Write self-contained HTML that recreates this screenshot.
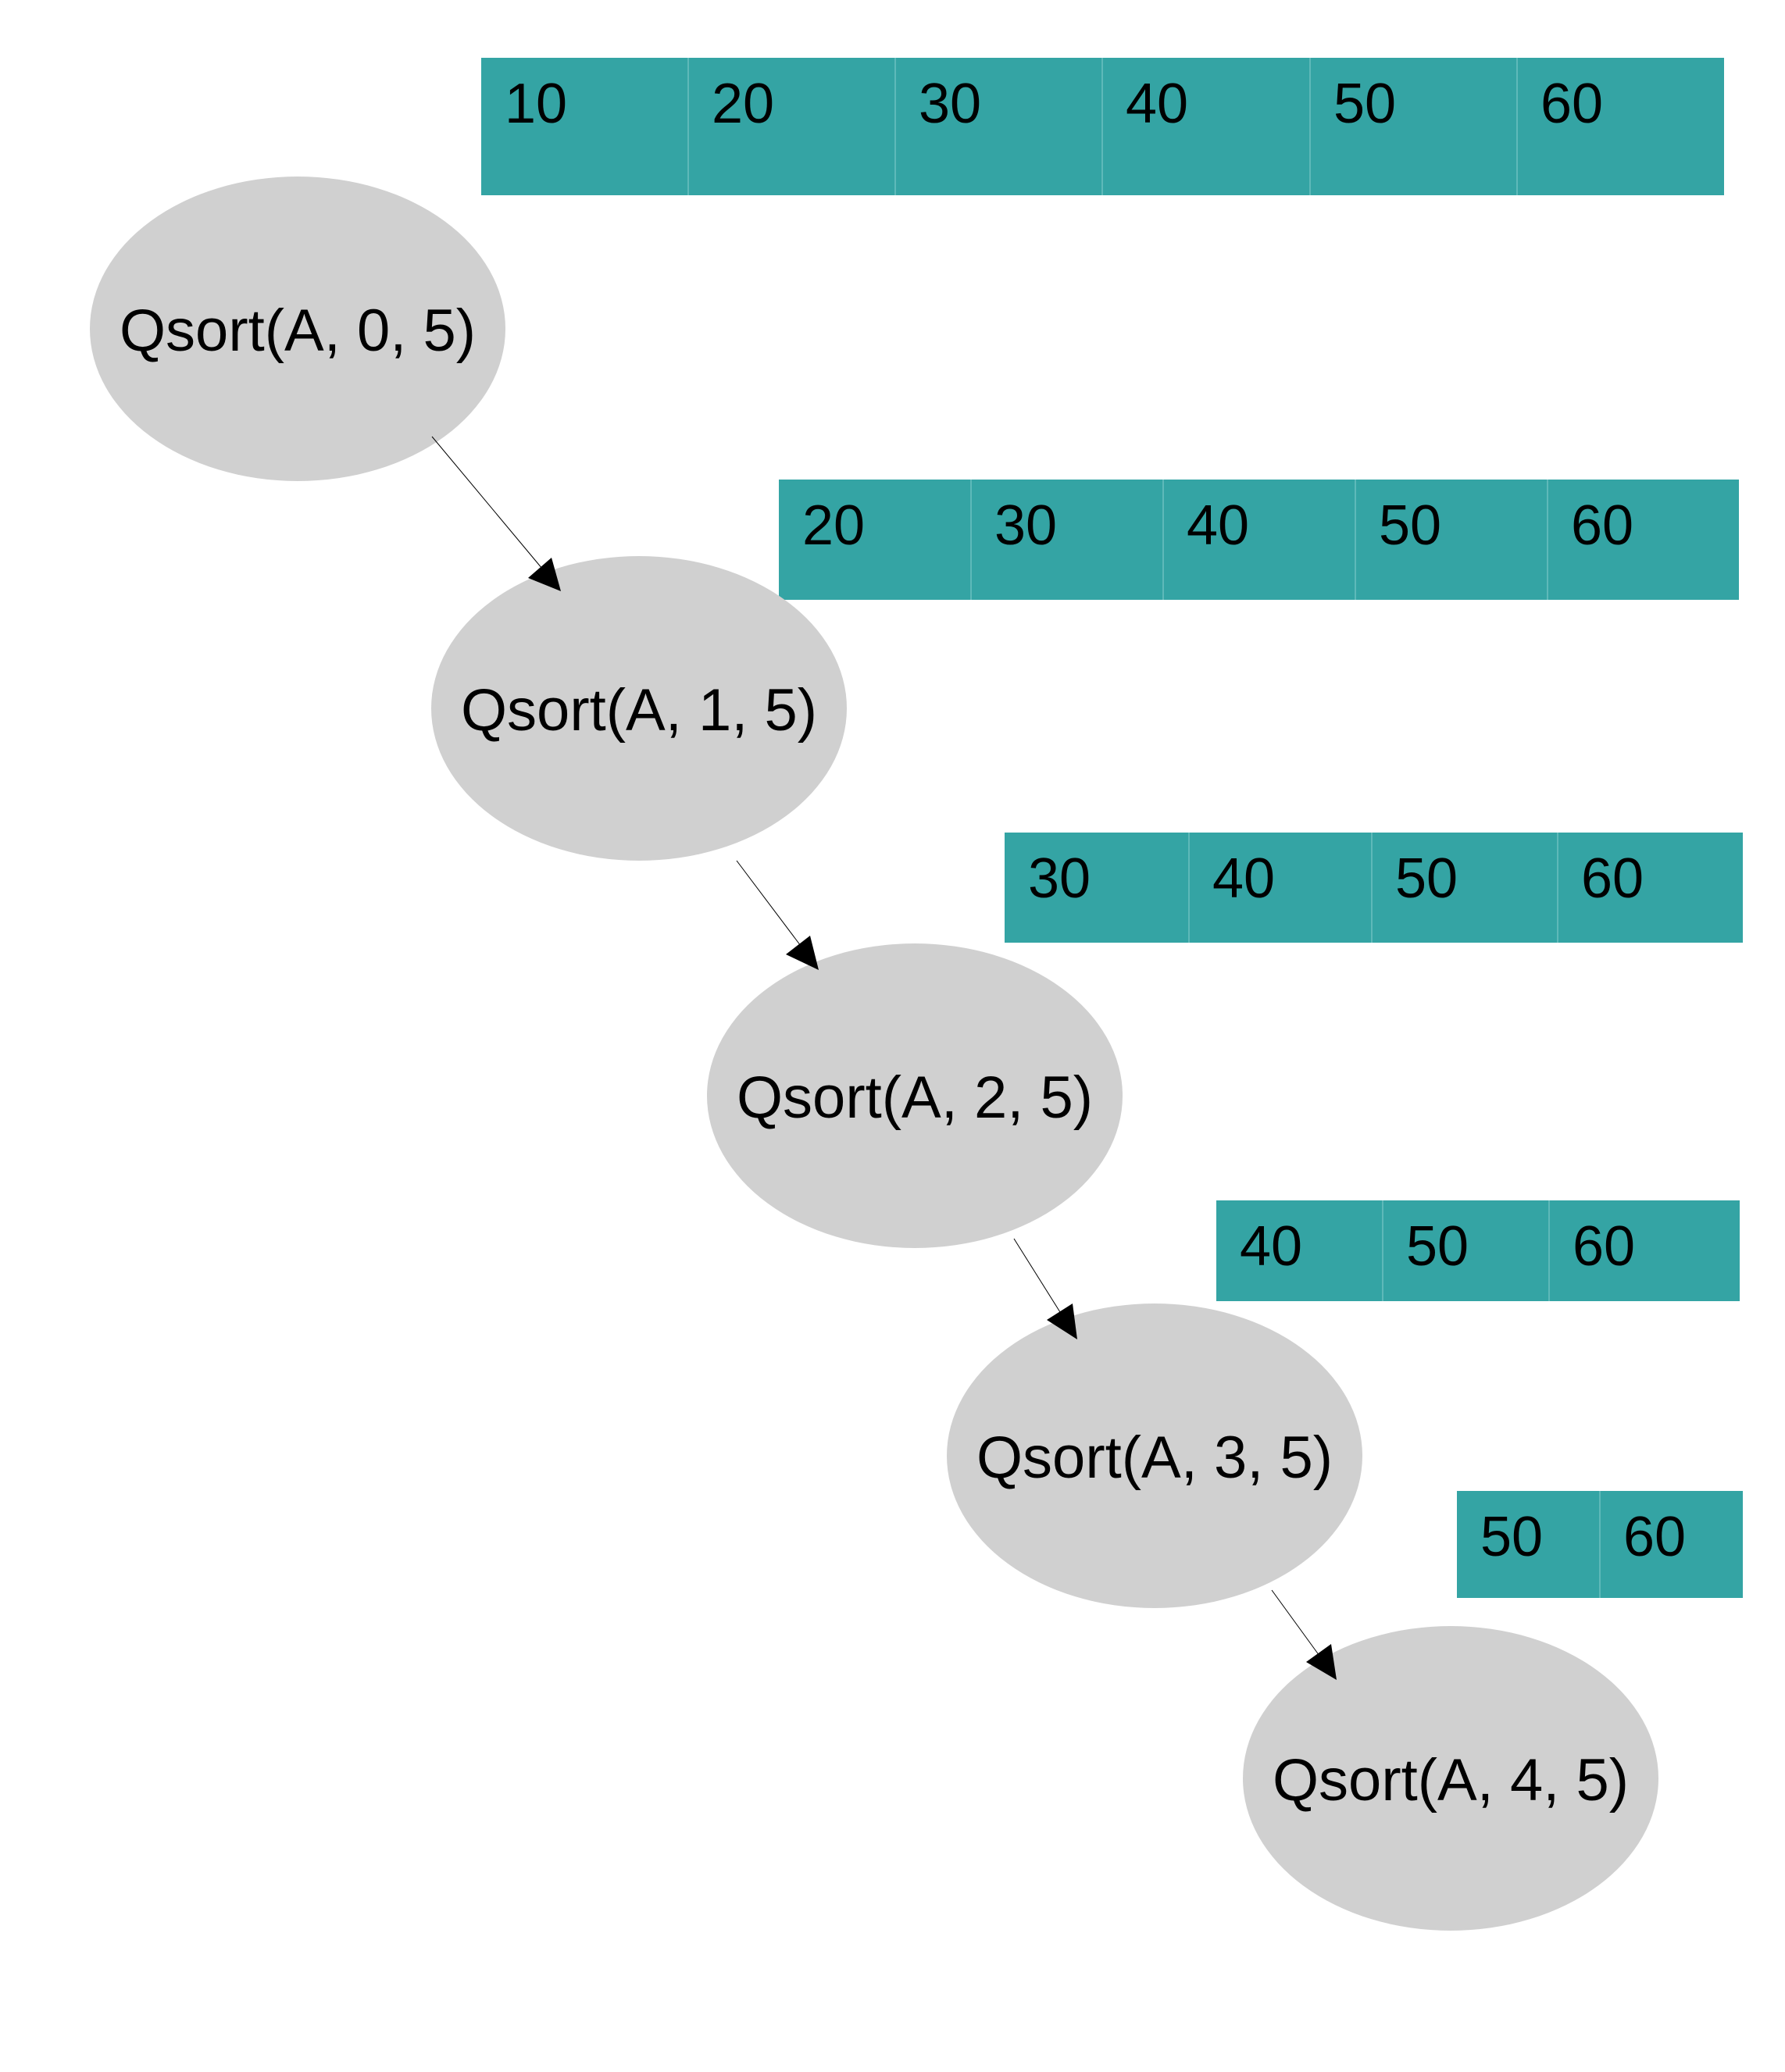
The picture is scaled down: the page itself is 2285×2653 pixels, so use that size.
<!DOCTYPE html>
<html><head><meta charset="utf-8"><style>html,body{margin:0;padding:0;background:#fff}svg{display:block}</style></head>
<body>
<svg width="2285" height="2653" viewBox="0 0 2285 2653" xmlns="http://www.w3.org/2000/svg" font-family="Liberation Sans, Arial, sans-serif" font-size="72">
<g fill="#34a4a4">
<rect x="616" y="74" width="1591" height="176"/>
<rect x="997" y="614" width="1229" height="154"/>
<rect x="1286" y="1066" width="945" height="141"/>
<rect x="1557" y="1537" width="670" height="129"/>
<rect x="1865" y="1909" width="366" height="137"/>
</g>
<g stroke="#6cc0c0" stroke-width="1.5">
<line x1="881" y1="74" x2="881" y2="250"/><line x1="1146" y1="74" x2="1146" y2="250"/><line x1="1411" y1="74" x2="1411" y2="250"/><line x1="1677" y1="74" x2="1677" y2="250"/><line x1="1942" y1="74" x2="1942" y2="250"/>
<line x1="1243" y1="614" x2="1243" y2="768"/><line x1="1489" y1="614" x2="1489" y2="768"/><line x1="1735" y1="614" x2="1735" y2="768"/><line x1="1981" y1="614" x2="1981" y2="768"/>
<line x1="1522" y1="1066" x2="1522" y2="1207"/><line x1="1756" y1="1066" x2="1756" y2="1207"/><line x1="1994" y1="1066" x2="1994" y2="1207"/>
<line x1="1770" y1="1537" x2="1770" y2="1666"/><line x1="1983" y1="1537" x2="1983" y2="1666"/>
<line x1="2048" y1="1909" x2="2048" y2="2046"/>
</g>
<g fill="#000">
<text x="646" y="157">10</text><text x="911" y="157">20</text><text x="1176" y="157">30</text><text x="1441" y="157">40</text><text x="1707" y="157">50</text><text x="1972" y="157">60</text>
<text x="1027" y="697">20</text><text x="1273" y="697">30</text><text x="1519" y="697">40</text><text x="1765" y="697">50</text><text x="2011" y="697">60</text>
<text x="1316" y="1149">30</text><text x="1552" y="1149">40</text><text x="1786" y="1149">50</text><text x="2024" y="1149">60</text>
<text x="1587" y="1620">40</text><text x="1800" y="1620">50</text><text x="2013" y="1620">60</text>
<text x="1895" y="1992">50</text><text x="2078" y="1992">60</text>
</g>
<g fill="#d0d0d0">
<ellipse cx="381" cy="421" rx="266" ry="195"/>
<ellipse cx="818" cy="907" rx="266" ry="195"/>
<ellipse cx="1171" cy="1403" rx="266" ry="195"/>
<ellipse cx="1478" cy="1864" rx="266" ry="195"/>
<ellipse cx="1857" cy="2277" rx="266" ry="195"/>
</g>
<g fill="#000" text-anchor="middle" font-size="76">
<text x="381" y="449">Qsort(A, 0, 5)</text>
<text x="818" y="935">Qsort(A, 1, 5)</text>
<text x="1171" y="1431">Qsort(A, 2, 5)</text>
<text x="1478" y="1892">Qsort(A, 3, 5)</text>
<text x="1857" y="2305">Qsort(A, 4, 5)</text>
</g>
<g stroke="#000" stroke-width="1">
<line x1="553" y1="559" x2="694" y2="728"/>
<line x1="943" y1="1102" x2="1025" y2="1211"/>
<line x1="1298" y1="1586" x2="1357" y2="1680"/>
<line x1="1628" y1="2036" x2="1689" y2="2120"/>
</g>
<g fill="#000">
<polygon points="718,757 676,740 706,714"/>
<polygon points="1048,1242 1006,1222 1037,1198"/>
<polygon points="1379,1715 1340,1690 1373,1669"/>
<polygon points="1711,2151 1672,2128 1704,2105"/>
</g>
</svg>
</body></html>
